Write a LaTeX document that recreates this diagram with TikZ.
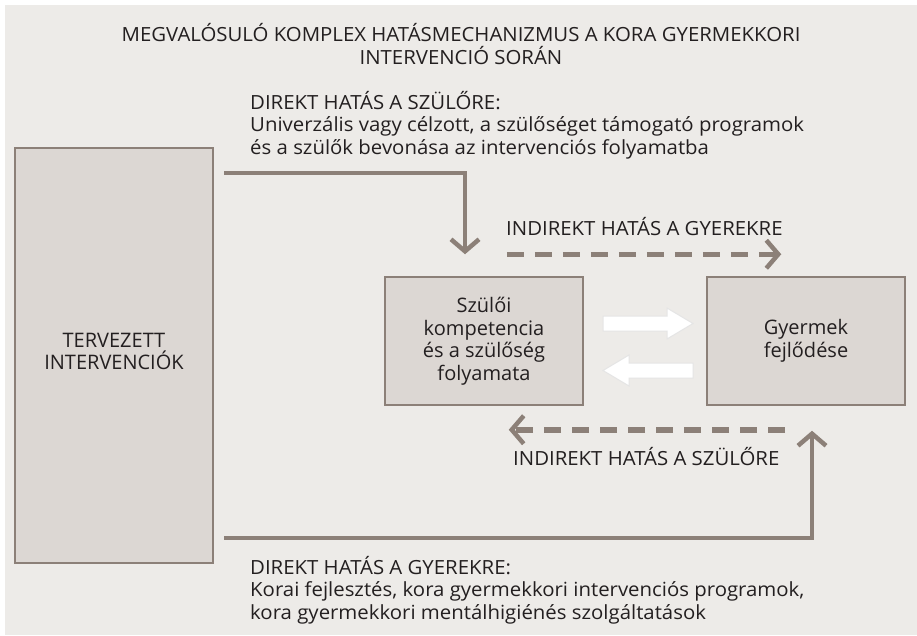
\documentclass[tikz,border=0pt]{standalone}
\usepackage{fontspec}
\setmainfont{Open Sans}
\newfontfamily\labelfont[FakeStretch=1.045]{Open Sans}
\usetikzlibrary{arrows.meta,positioning}
\definecolor{panel}{RGB}{237,235,232}
\definecolor{boxfill}{RGB}{220,215,211}
\definecolor{linebrown}{RGB}{140,128,120}
\definecolor{ink}{RGB}{35,31,32}
\tikzset{
	box/.style={draw=linebrown,line width=1.5pt,fill=boxfill,minimum width=198pt,minimum height=128pt,align=center,text=ink,font=\fontsize{20}{22.5}\selectfont},
	caption/.style={align=left,text=ink,inner sep=0pt,font=\labelfont\fontsize{19.5}{22.5}\selectfont},
	effect/.style={draw=linebrown,line width=4.5pt,-{Straight Barb[length=12pt,width=28pt,line width=4.5pt]}},
	indirect/.style={effect,line width=5.5pt,dash pattern=on 17pt off 11pt},
	whitearrow/.style={fill=white,draw=black!10,line width=1pt}
}
\begin{document}
\begin{tikzpicture}[x=1pt,y=-1pt]
	\useasboundingbox (0,0) rectangle (917,635);
	\fill[panel] (5,5) rectangle (917,635);
	% title
	\node[caption,align=center,anchor=base] (title) at (461,64) {MEGVALÓSULÓ KOMPLEX HATÁSMECHANIZMUS A KORA GYERMEKKORI\\INTERVENCIÓ SORÁN};
	% boxes
	\node[box,minimum height=415pt,text depth=8pt] (interv) at (114,355.5) {TERVEZETT\\INTERVENCIÓK};
	\node[box] (szuloi) at (484,341) {Szülői\\kompetencia\\és a szülőség\\folyamata};
	\node[box] (gyermek) at (806,341) {Gyermek\\fejlődése};
	% direct effects
	\coordinate (topstart) at (224,173);
	\coordinate (botstart) at (224,538);
	\draw[effect] (topstart) -| ([xshift=-19pt,yshift=22pt]szuloi.north);
	\draw[effect] (botstart) -| ([xshift=6pt,yshift=-25pt]gyermek.south);
	\node[caption,anchor=base west] (direktszulo) at (250,154) {DIREKT HATÁS A SZÜLŐRE:\\Univerzális vagy célzott, a szülőséget támogató programok\\és a szülők bevonása az intervenciós folyamatba};
	\node[caption,anchor=base west] (direktgyerek) at (250,619) {DIREKT HATÁS A GYEREKRE:\\Korai fejlesztés, kora gyermekkori intervenciós programok,\\kora gyermekkori mentálhigiénés szolgáltatások};
	% indirect effects
	\coordinate (gyfrom) at ([xshift=-77pt,yshift=22pt]szuloi.north east);
	\coordinate (gyto) at ([xshift=75pt,yshift=22pt]gyermek.north west);
	\coordinate (szfrom) at ([xshift=-21pt,yshift=-24pt]gyermek.south);
	\coordinate (szto) at ([xshift=-75pt,yshift=-24pt]szuloi.south east);
	\draw[indirect] (gyfrom) -- (gyto);
	\draw[indirect] (szfrom) -- (szto);
	\node[caption,anchor=base west] (indgyerek) at (506,235) {INDIREKT HATÁS A GYEREKRE};
	\node[caption,anchor=base west] (indszulo) at (513,465) {INDIREKT HATÁS A SZÜLŐRE};
	% white arrows between the boxes
	\filldraw[whitearrow] (603,316) -- (667,316) -- (667,308) -- (693,323.5) -- (667,339) -- (667,331) -- (603,331) -- cycle;
	\filldraw[whitearrow] (693,363) -- (629,363) -- (629,355) -- (603,370.5) -- (629,386) -- (629,378) -- (693,378) -- cycle;
\end{tikzpicture}
\end{document}
